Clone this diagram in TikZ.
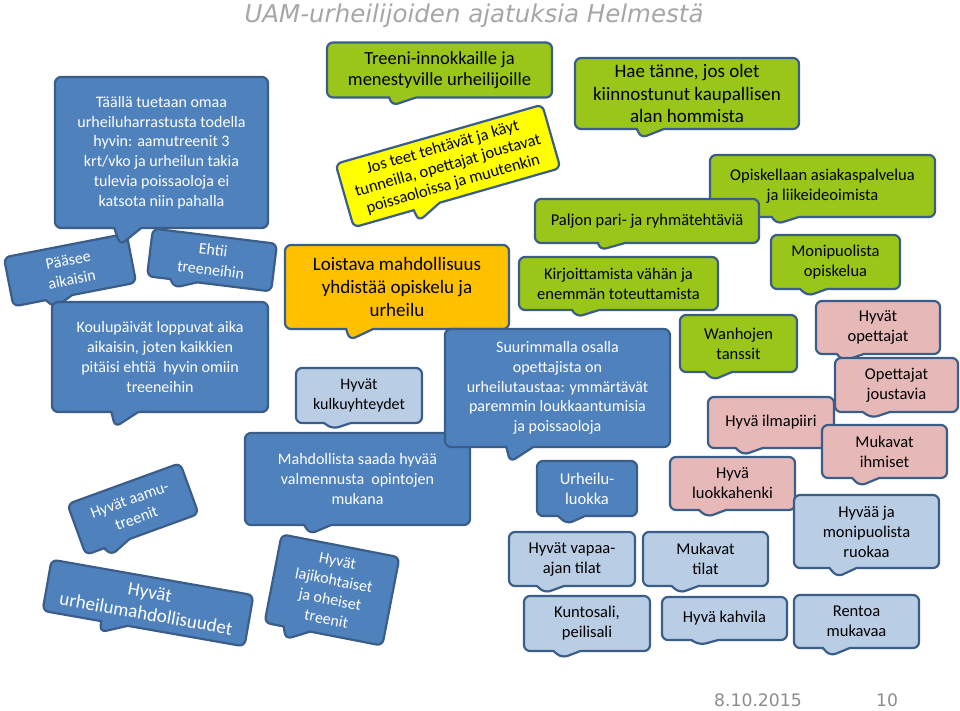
\documentclass[tikz,border=0pt]{standalone}
\usepackage{fontspec}
\setmainfont{Carlito}
\newfontfamily\titlefont{DejaVu Sans}
\usetikzlibrary{shapes.callouts}

\definecolor{edgeblue}{HTML}{3A5D8A}
\definecolor{boxblue}{HTML}{4F81BD}
\definecolor{boxgreen}{HTML}{99C618}
\definecolor{boxyellow}{HTML}{FFFF00}
\definecolor{boxorange}{HTML}{FFC000}
\definecolor{boxlight}{HTML}{B9CDE5}
\definecolor{boxpink}{HTML}{E6B9B8}
\definecolor{titlegray}{HTML}{A6A6A6}
\definecolor{footgray}{HTML}{8C8C8C}

\begin{document}
\begin{tikzpicture}
[x=1pt,y=-1pt,
 bubble/.style={rectangle callout,rounded corners=6pt,draw=edgeblue,line width=2.2pt,
   callout pointer width=27pt,align=center,inner sep=2pt},
 blue/.style={bubble,fill=boxblue,text=white},
 green/.style={bubble,fill=boxgreen},
 yellow/.style={bubble,fill=boxyellow},
 orange/.style={bubble,fill=boxorange},
 light/.style={bubble,fill=boxlight},
 pink/.style={bubble,fill=boxpink},
 box/.style 2 args={minimum width=#1pt,minimum height=#2pt},
 ptr/.style 2 args={callout relative pointer={(#1pt,#2pt)}},
 small/.style={font=\fontsize{16.5}{20}\selectfont},
 f16/.style={font=\fontsize{16}{19.7}\selectfont},
 f19/.style={font=\fontsize{19}{22.5}\selectfont}]

\useasboundingbox (0,0) rectangle (960,710);

\node (title) at (474,22) [anchor=base,text=titlegray,font=\titlefont\itshape\fontsize{24.5}{28}\selectfont]
	{UAM-urheilijoiden ajatuksia Helmestä};

% left column
\node (paasee) at (70,270) [blue,f16,box={125}{50},rotate=11,ptr={-5.8}{-9}]
	{Pääsee\\aikaisin};
\node (ehtii) at (212,260) [blue,f16,box={125}{48},rotate=-7,ptr={-8.5}{-8}]
	{Ehtii\\treeneihin};
\node (taalla) at (161.5,152.5) [blue,f16,box={213}{151},ptr={-7.6}{-17}]
	{Täällä tuetaan omaa\\urheiluharrastusta todella\\hyvin: aamutreenit 3\\krt/vko ja urheilun takia\\tulevia poissaoloja ei\\katsota niin pahalla};
\node (koulu) at (160,357) [blue,f16,box={216}{110},ptr={-9.6}{-15}]
	{Koulupäivät loppuvat aika\\aikaisin, joten kaikkien\\pitäisi ehtiä\ \ hyvin omiin\\treeneihin};
\node (aamu) at (133,509) [blue,f16,box={120}{54},rotate=20,ptr={-9}{-9}]
	{Hyvät aamu-\\treenit};
\node (urhmahd) at (148,603) [blue,font=\fontsize{19}{22}\selectfont,box={205}{52},rotate=-10,ptr={-12.5}{-11}]
	{Hyvät\\urheilumahdollisuudet};

% middle column
\node (treeni) at (439.5,70) [green,font=\fontsize{18.5}{21.5}\selectfont,box={225}{55},ptr={-10.7}{-8}]
	{Treeni-innokkaille ja\\menestyville urheilijoille};
\node (jos) at (448,166) [yellow,font=\fontsize{16.5}{19}\selectfont,box={215}{66},rotate=16,ptr={-11.5}{-12}]
	{Jos teet tehtävät ja käyt\\tunneilla, opettajat joustavat\\poissaoloissa ja muutenkin};
\node (loistava) at (397,287) [orange,font=\fontsize{19}{23}\selectfont,box={224}{84},ptr={-9.8}{-11}]
	{Loistava mahdollisuus\\yhdistää opiskelu ja\\urheilu};
\node (kulku) at (359,395.5) [light,f16,box={126}{55},ptr={-4.7}{-6}]
	{Hyvät\\kulkuyhteydet};
\node (mahd) at (357.5,479) [blue,f16,box={225}{92},ptr={-7.8}{-9}]
	{Mahdollista saada hyvää\\valmennusta\ \ opintojen\\mukana};
\node (lajik) at (332,590) [blue,f16,box={120}{90},rotate=-11,ptr={-7.6}{-12}]
	{Hyvät\\lajikohtaiset\\ja oheiset\\treenit};

% right part
\node (hae) at (687,93.5) [green,f19,box={224}{71},ptr={-9.3}{-9}]
	{Hae tänne, jos olet\\kiinnostunut kaupallisen\\alan hommista};
\node (opisk) at (822.5,186) [green,small,box={225}{62},ptr={-8.4}{-7}]
	{Opiskellaan asiakaspalvelua\\ja liikeideoimista};
\node (paljon) at (647,221) [green,small,box={224}{44},ptr={-11.3}{-7}]
	{Paljon pari- ja ryhmätehtäviä};
\node (moni) at (835.5,262) [green,small,box={129}{54},ptr={-5.7}{-7}]
	{Monipuolista\\opiskelua};
\node (kirj) at (618.5,283.5) [green,small,box={199}{53},ptr={-8.7}{-7}]
	{Kirjoittamista vähän ja\\enemmän toteuttamista};
\node (suur) at (557.5,388) [blue,f16,box={225}{118},ptr={-9.6}{-15}]
	{Suurimmalla osalla\\opettajista on\\urheilutaustaa: ymmärtävät\\paremmin loukkaantumisia\\ja poissaoloja};
\node (wanh) at (738.5,343.5) [green,small,box={117}{57},ptr={-5.6}{-8}]
	{Wanhojen\\tanssit};
\node (hyvop) at (878,327.5) [pink,small,box={124}{53},ptr={-7.3}{-7}]
	{Hyvät\\opettajat};
\node (opjo) at (896.5,385) [pink,small,box={123}{54},ptr={-4.5}{-6}]
	{Opettajat\\joustavia};
\node (ilma) at (771,422.5) [pink,small,box={126}{51},ptr={-6}{-7}]
	{Hyvä ilmapiiri};
\node (mukih) at (884.5,451.5) [pink,small,box={125}{53},ptr={-5.7}{-8}]
	{Mukavat\\ihmiset};
\node (urhluokka) at (587,488.5) [blue,small,box={100}{55},ptr={-4.5}{-8}]
	{Urheilu-\\luokka};
\node (luokh) at (732.5,483.5) [pink,small,box={125}{53},ptr={-5.3}{-7}]
	{Hyvä\\luokkahenki};
\node (ruoka) at (866.5,531.5) [light,small,box={145}{73},ptr={-5.8}{-9}]
	{Hyvää ja\\monipuolista\\ruokaa};
\node (vapaa) at (572,559) [light,small,box={126}{54},ptr={-5.6}{-7}]
	{Hyvät vapaa-\\ajan tilat};
\node (muktil) at (705.5,559) [light,small,box={125}{54},ptr={-5.3}{-7}]
	{Mukavat\\tilat};
\node (kunto) at (587,623.5) [light,small,box={126}{55},ptr={-5.1}{-7}]
	{Kuntosali,\\peilisali};
\node (kahv) at (724.5,618.5) [light,small,box={125}{43},ptr={-4.6}{-5}]
	{Hyvä kahvila};
\node (rento) at (856.5,621.5) [light,small,box={125}{53},ptr={-6.1}{-8}]
	{Rentoa\\mukavaa};

\node (date) at (758,706) [anchor=base,text=footgray,font=\titlefont\fontsize{17.2}{20}\selectfont]
	{8.10.2015};
\node (page) at (887,706) [anchor=base,text=footgray,font=\titlefont\fontsize{17.2}{20}\selectfont]
	{10};
\end{tikzpicture}
\end{document}
